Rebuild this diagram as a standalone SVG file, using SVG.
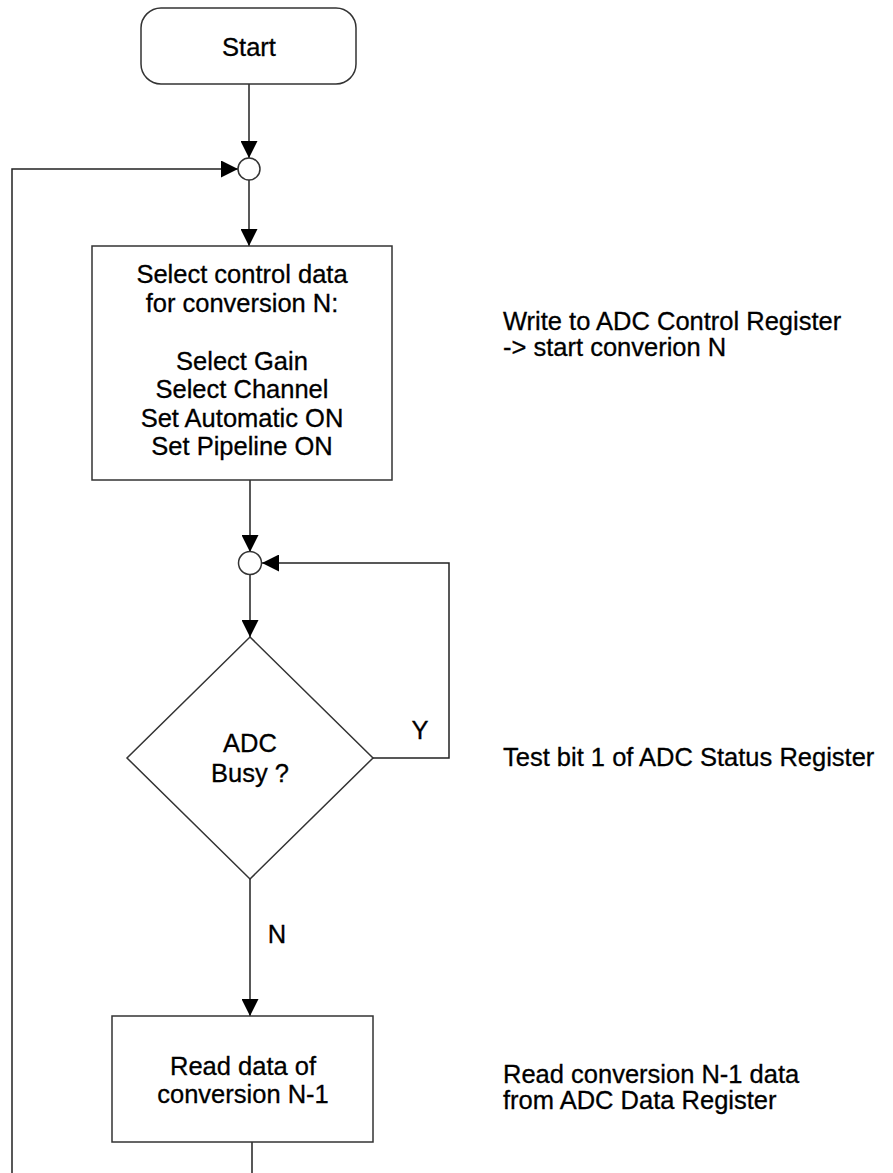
<svg xmlns="http://www.w3.org/2000/svg" width="893" height="1173" viewBox="0 0 893 1173">
<style>
.shape{fill:#fff;stroke:#333;stroke-width:1.5}
.conn{fill:none;stroke:#222;stroke-width:1.5}
.t{font-family:"Liberation Sans",Arial,sans-serif;font-size:25.5px;fill:#000;stroke:#000;stroke-width:0.3}
.c{text-anchor:middle}
</style>
<defs>
<marker id="arr" viewBox="0 0 17 17" refX="17" refY="8.5" markerWidth="17" markerHeight="17" markerUnits="userSpaceOnUse" orient="auto">
<path d="M0,0 L17,8.5 L0,17 Z" fill="#000" stroke="none"/>
</marker>
</defs>
<rect width="893" height="1173" fill="#fff"/>
<g id="connectors">
<line class="conn" x1="249" y1="84" x2="249" y2="158" marker-end="url(#arr)"/>
<line class="conn" x1="249" y1="180" x2="249" y2="246" marker-end="url(#arr)"/>
<line class="conn" x1="250" y1="480" x2="250" y2="552" marker-end="url(#arr)"/>
<line class="conn" x1="250" y1="575" x2="250" y2="637" marker-end="url(#arr)"/>
<polyline class="conn" points="373,758 449,758 449,563 262,563" marker-end="url(#arr)"/>
<line class="conn" x1="250" y1="879" x2="250" y2="1016" marker-end="url(#arr)"/>
<polyline class="conn" points="252,1142 252,1190 12,1190 12,169 238,169" marker-end="url(#arr)"/>
<text class="t c" x="420" y="739">Y</text>
<text class="t c" x="277" y="943">N</text>
</g>
<g id="start">
<rect class="shape" x="141" y="8" width="215" height="76" rx="20" ry="20"/>
<text class="t c" x="249" y="56">Start</text>
</g>
<g id="join1">
<circle class="shape" cx="249" cy="169" r="11"/>
</g>
<g id="select">
<rect class="shape" x="92" y="246" width="300" height="234"/>
<text class="t c" x="242" y="283">Select control data</text>
<text class="t c" x="242" y="312">for conversion N:</text>
<text class="t c" x="242" y="370">Select Gain</text>
<text class="t c" x="242" y="398">Select Channel</text>
<text class="t c" x="242" y="427">Set Automatic ON</text>
<text class="t c" x="242" y="455">Set Pipeline ON</text>
</g>
<g id="join2">
<circle class="shape" cx="250" cy="563" r="11.5"/>
</g>
<g id="busy">
<polygon class="shape" points="250,637 373,758 250,879 127,758"/>
<text class="t c" x="250" y="752">ADC</text>
<text class="t c" x="250" y="782">Busy ?</text>
</g>
<g id="read">
<rect class="shape" x="112" y="1016" width="261" height="126"/>
<text class="t c" x="243" y="1075">Read data of</text>
<text class="t c" x="243" y="1103">conversion N-1</text>
</g>
<g id="notes">
<text class="t" x="503" y="330">Write to ADC Control Register</text>
<text class="t" x="503" y="356">-&gt; start converion N</text>
<text class="t" x="503" y="766">Test bit 1 of ADC Status Register</text>
<text class="t" x="503" y="1083">Read conversion N-1 data</text>
<text class="t" x="503" y="1109">from ADC Data Register</text>
</g>
</svg>
